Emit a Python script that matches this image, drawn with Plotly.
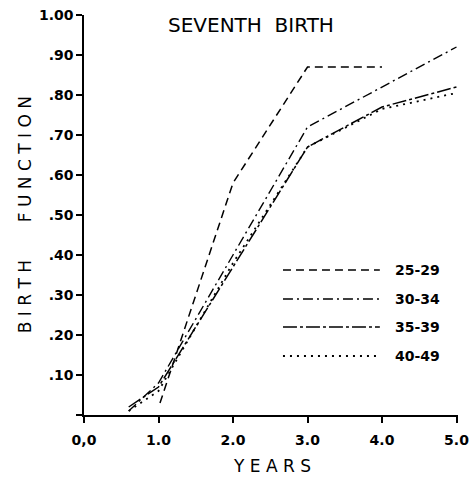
import plotly.graph_objects as go

# ---- data ----
x_25_29 = [1.02, 2.0, 3.0, 4.0]
y_25_29 = [0.03, 0.58, 0.87, 0.87]

x_30_34 = [0.6, 1.0, 2.0, 3.0, 5.0]
y_30_34 = [0.01, 0.08, 0.40, 0.72, 0.92]

x_35_39 = [0.6, 1.0, 2.0, 3.0, 4.0, 5.0]
y_35_39 = [0.02, 0.07, 0.37, 0.67, 0.77, 0.82]

x_40_49 = [0.6, 1.0, 2.0, 3.0, 4.0, 5.0]
y_40_49 = [0.01, 0.06, 0.38, 0.67, 0.765, 0.805]

series_names = ["25-29", "30-34", "35-39", "40-49"]

x_tickvals = [0, 1, 2, 3, 4, 5]
x_ticktext = ["0,0", "1.0", "2.0", "3.0", "4.0", "5.0"]
y_tickvals = [0, 0.1, 0.2, 0.3, 0.4, 0.5, 0.6, 0.7, 0.8, 0.9, 1.0]
y_ticktext = ["", ".10", ".20", ".30", ".40", ".50", ".60", ".70", ".80", ".90", "1.00"]

dashes = ["8px,5px", "10px,4px,2px,4px", "14px,3px,3px,3px", "2px,5px"]
widths = [1.5, 1.4, 1.5, 1.8]

xs = [x_25_29, x_30_34, x_35_39, x_40_49]
ys = [y_25_29, y_30_34, y_35_39, y_40_49]

fig = go.Figure()
for name, xv, yv, d, w in zip(series_names, xs, ys, dashes, widths):
    fig.add_trace(go.Scatter(x=xv, y=yv, mode="lines", name=name,
                             line=dict(color="black", width=w, dash=d),
                             showlegend=False))

font_main = dict(family="DejaVu Sans, Verdana, sans-serif", color="black")

# legend drawn as paper-space samples with labels
leg_y = [0.3625, 0.29, 0.22, 0.1475]
for name, d, w, yy in zip(series_names, dashes, widths, leg_y):
    fig.add_shape(type="line", xref="paper", yref="paper",
                  x0=0.532, x1=0.791, y0=yy, y1=yy,
                  line=dict(color="black", width=w, dash=d))
    fig.add_annotation(text=name, xref="paper", yref="paper", x=0.826, y=yy,
                       xanchor="left", yanchor="middle", showarrow=False,
                       font=dict(size=14, weight="bold", **font_main))

fig.add_annotation(text="SEVENTH  BIRTH", xref="paper", yref="paper",
                   x=0.447, y=0.975, xanchor="center", yanchor="middle",
                   showarrow=False, font=dict(size=20, **font_main))
fig.add_annotation(text="B I R T H       F U N C T I O N", xref="paper", yref="paper",
                   x=-0.157, y=0.5, textangle=-90, xanchor="center", yanchor="middle",
                   showarrow=False, font=dict(size=17, **font_main))
fig.add_annotation(text="Y E A R S", xref="paper", yref="paper",
                   x=0.503, y=-0.1275, xanchor="center", yanchor="middle",
                   showarrow=False, font=dict(size=17, **font_main))

fig.update_xaxes(range=[0, 5.02], tickvals=x_tickvals, ticktext=x_ticktext,
                 showline=True, linecolor="black", linewidth=1.5,
                 ticks="outside", ticklen=6, tickwidth=1.5, tickcolor="black",
                 showgrid=False, zeroline=False, ticklabelstandoff=5,
                 automargin=False,
                 tickfont=dict(size=14, weight="bold", **font_main))
fig.update_yaxes(range=[0, 1.0], tickvals=y_tickvals, ticktext=y_ticktext,
                 showline=True, linecolor="black", linewidth=1.5,
                 ticks="outside", ticklen=6, tickwidth=1.5, tickcolor="black",
                 showgrid=False, zeroline=False, automargin=False,
                 tickfont=dict(size=14, weight="bold", **font_main))

fig.update_layout(width=475, height=481,
                  margin=dict(l=84, r=17, t=15, b=66),
                  plot_bgcolor="white", paper_bgcolor="white")

fig.write_html("out.html")
